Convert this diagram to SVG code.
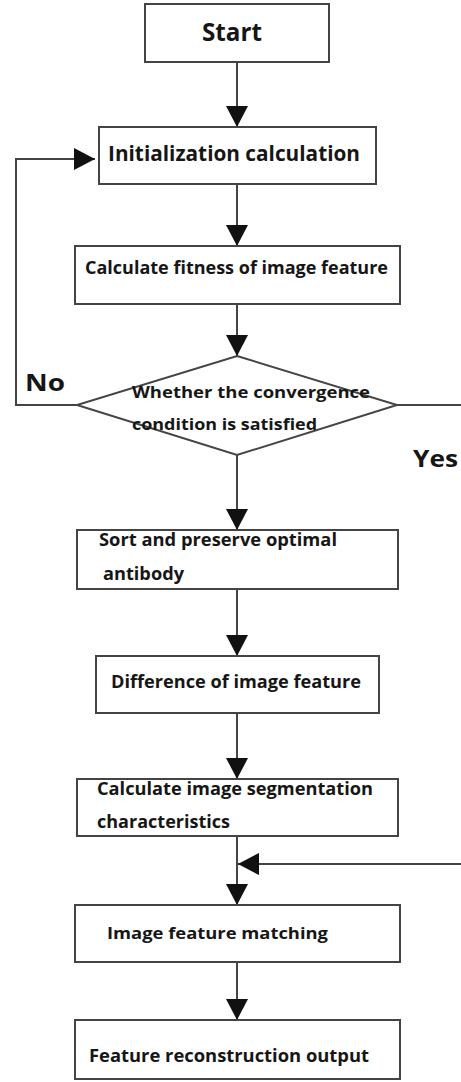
<svg xmlns="http://www.w3.org/2000/svg" width="461" height="1082" viewBox="0 0 461 1082">
<defs>
<marker id="ah" markerUnits="userSpaceOnUse" markerWidth="22" markerHeight="22" viewBox="0 0 22 22" refX="21" refY="11" orient="auto">
<path d="M0,0 L21,11 L0,22 Z" fill="#111"/>
</marker>
<style>
.box{fill:#fff;stroke:#444;stroke-width:2}
.ln{fill:none;stroke:#444;stroke-width:2}
.t{font-family:"Open Sans","Noto Sans","DejaVu Sans",sans-serif;font-weight:bold;fill:#161616}
</style>
</defs>
<rect width="461" height="1082" fill="#fff"/>
<g id="connectors">
<line class="ln" x1="237" y1="62" x2="237" y2="127" marker-end="url(#ah)"/>
<line class="ln" x1="237" y1="184" x2="237" y2="246" marker-end="url(#ah)"/>
<line class="ln" x1="237" y1="304" x2="237" y2="356" marker-end="url(#ah)"/>
<polyline class="ln" points="77,405 16,405 16,159 95,159" marker-end="url(#ah)"/>
<line class="ln" x1="397" y1="405" x2="462" y2="405"/>
<line class="ln" x1="237" y1="455" x2="237" y2="530" marker-end="url(#ah)"/>
<line class="ln" x1="237" y1="589" x2="237" y2="656" marker-end="url(#ah)"/>
<line class="ln" x1="237" y1="713" x2="237" y2="779" marker-end="url(#ah)"/>
<line class="ln" x1="237" y1="836" x2="237" y2="905" marker-end="url(#ah)"/>
<line class="ln" x1="462" y1="864" x2="238" y2="864" marker-end="url(#ah)"/>
<line class="ln" x1="237" y1="962" x2="237" y2="1020" marker-end="url(#ah)"/>
<text class="t" x="25" y="391" font-size="23" textLength="40" lengthAdjust="spacingAndGlyphs">No</text>
<text class="t" x="413" y="467" font-size="24" textLength="45" lengthAdjust="spacingAndGlyphs">Yes</text>
</g>
<g id="start">
<rect class="box" x="145" y="4" width="184" height="58"/>
<text class="t" x="202" y="41" font-size="25" textLength="60" lengthAdjust="spacingAndGlyphs">Start</text>
</g>
<g id="init">
<rect class="box" x="99" y="127" width="277" height="57"/>
<text class="t" x="108" y="161" font-size="21" textLength="252" lengthAdjust="spacingAndGlyphs">Initialization calculation</text>
</g>
<g id="fitness">
<rect class="box" x="75" y="246" width="325" height="58"/>
<text class="t" x="85" y="274" font-size="17" textLength="303" lengthAdjust="spacingAndGlyphs">Calculate fitness of image feature</text>
</g>
<g id="decision">
<polygon class="box" points="237,356 397,405 237,455 77,405"/>
<text class="t" x="132" y="398" font-size="16" textLength="238" lengthAdjust="spacingAndGlyphs">Whether the convergence</text>
<text class="t" x="132" y="430" font-size="16" textLength="185" lengthAdjust="spacingAndGlyphs">condition is satisfied</text>
</g>
<g id="sort">
<rect class="box" x="77" y="530" width="321" height="59"/>
<text class="t" x="99" y="546" font-size="17" textLength="238" lengthAdjust="spacingAndGlyphs">Sort and preserve optimal</text>
<text class="t" x="103" y="580" font-size="17" textLength="81" lengthAdjust="spacingAndGlyphs">antibody</text>
</g>
<g id="difference">
<rect class="box" x="96" y="656" width="283" height="57"/>
<text class="t" x="111" y="688" font-size="17" textLength="250" lengthAdjust="spacingAndGlyphs">Difference of image feature</text>
</g>
<g id="segmentation">
<rect class="box" x="77" y="779" width="321" height="57"/>
<text class="t" x="97" y="795" font-size="17" textLength="276" lengthAdjust="spacingAndGlyphs">Calculate image segmentation</text>
<text class="t" x="97" y="828" font-size="17" textLength="133" lengthAdjust="spacingAndGlyphs">characteristics</text>
</g>
<g id="matching">
<rect class="box" x="75" y="905" width="325" height="57"/>
<text class="t" x="107" y="939" font-size="16" textLength="221" lengthAdjust="spacingAndGlyphs">Image feature matching</text>
</g>
<g id="output">
<rect class="box" x="75" y="1020" width="325" height="59"/>
<text class="t" x="89" y="1062" font-size="17" textLength="280" lengthAdjust="spacingAndGlyphs">Feature reconstruction output</text>
</g>
</svg>
